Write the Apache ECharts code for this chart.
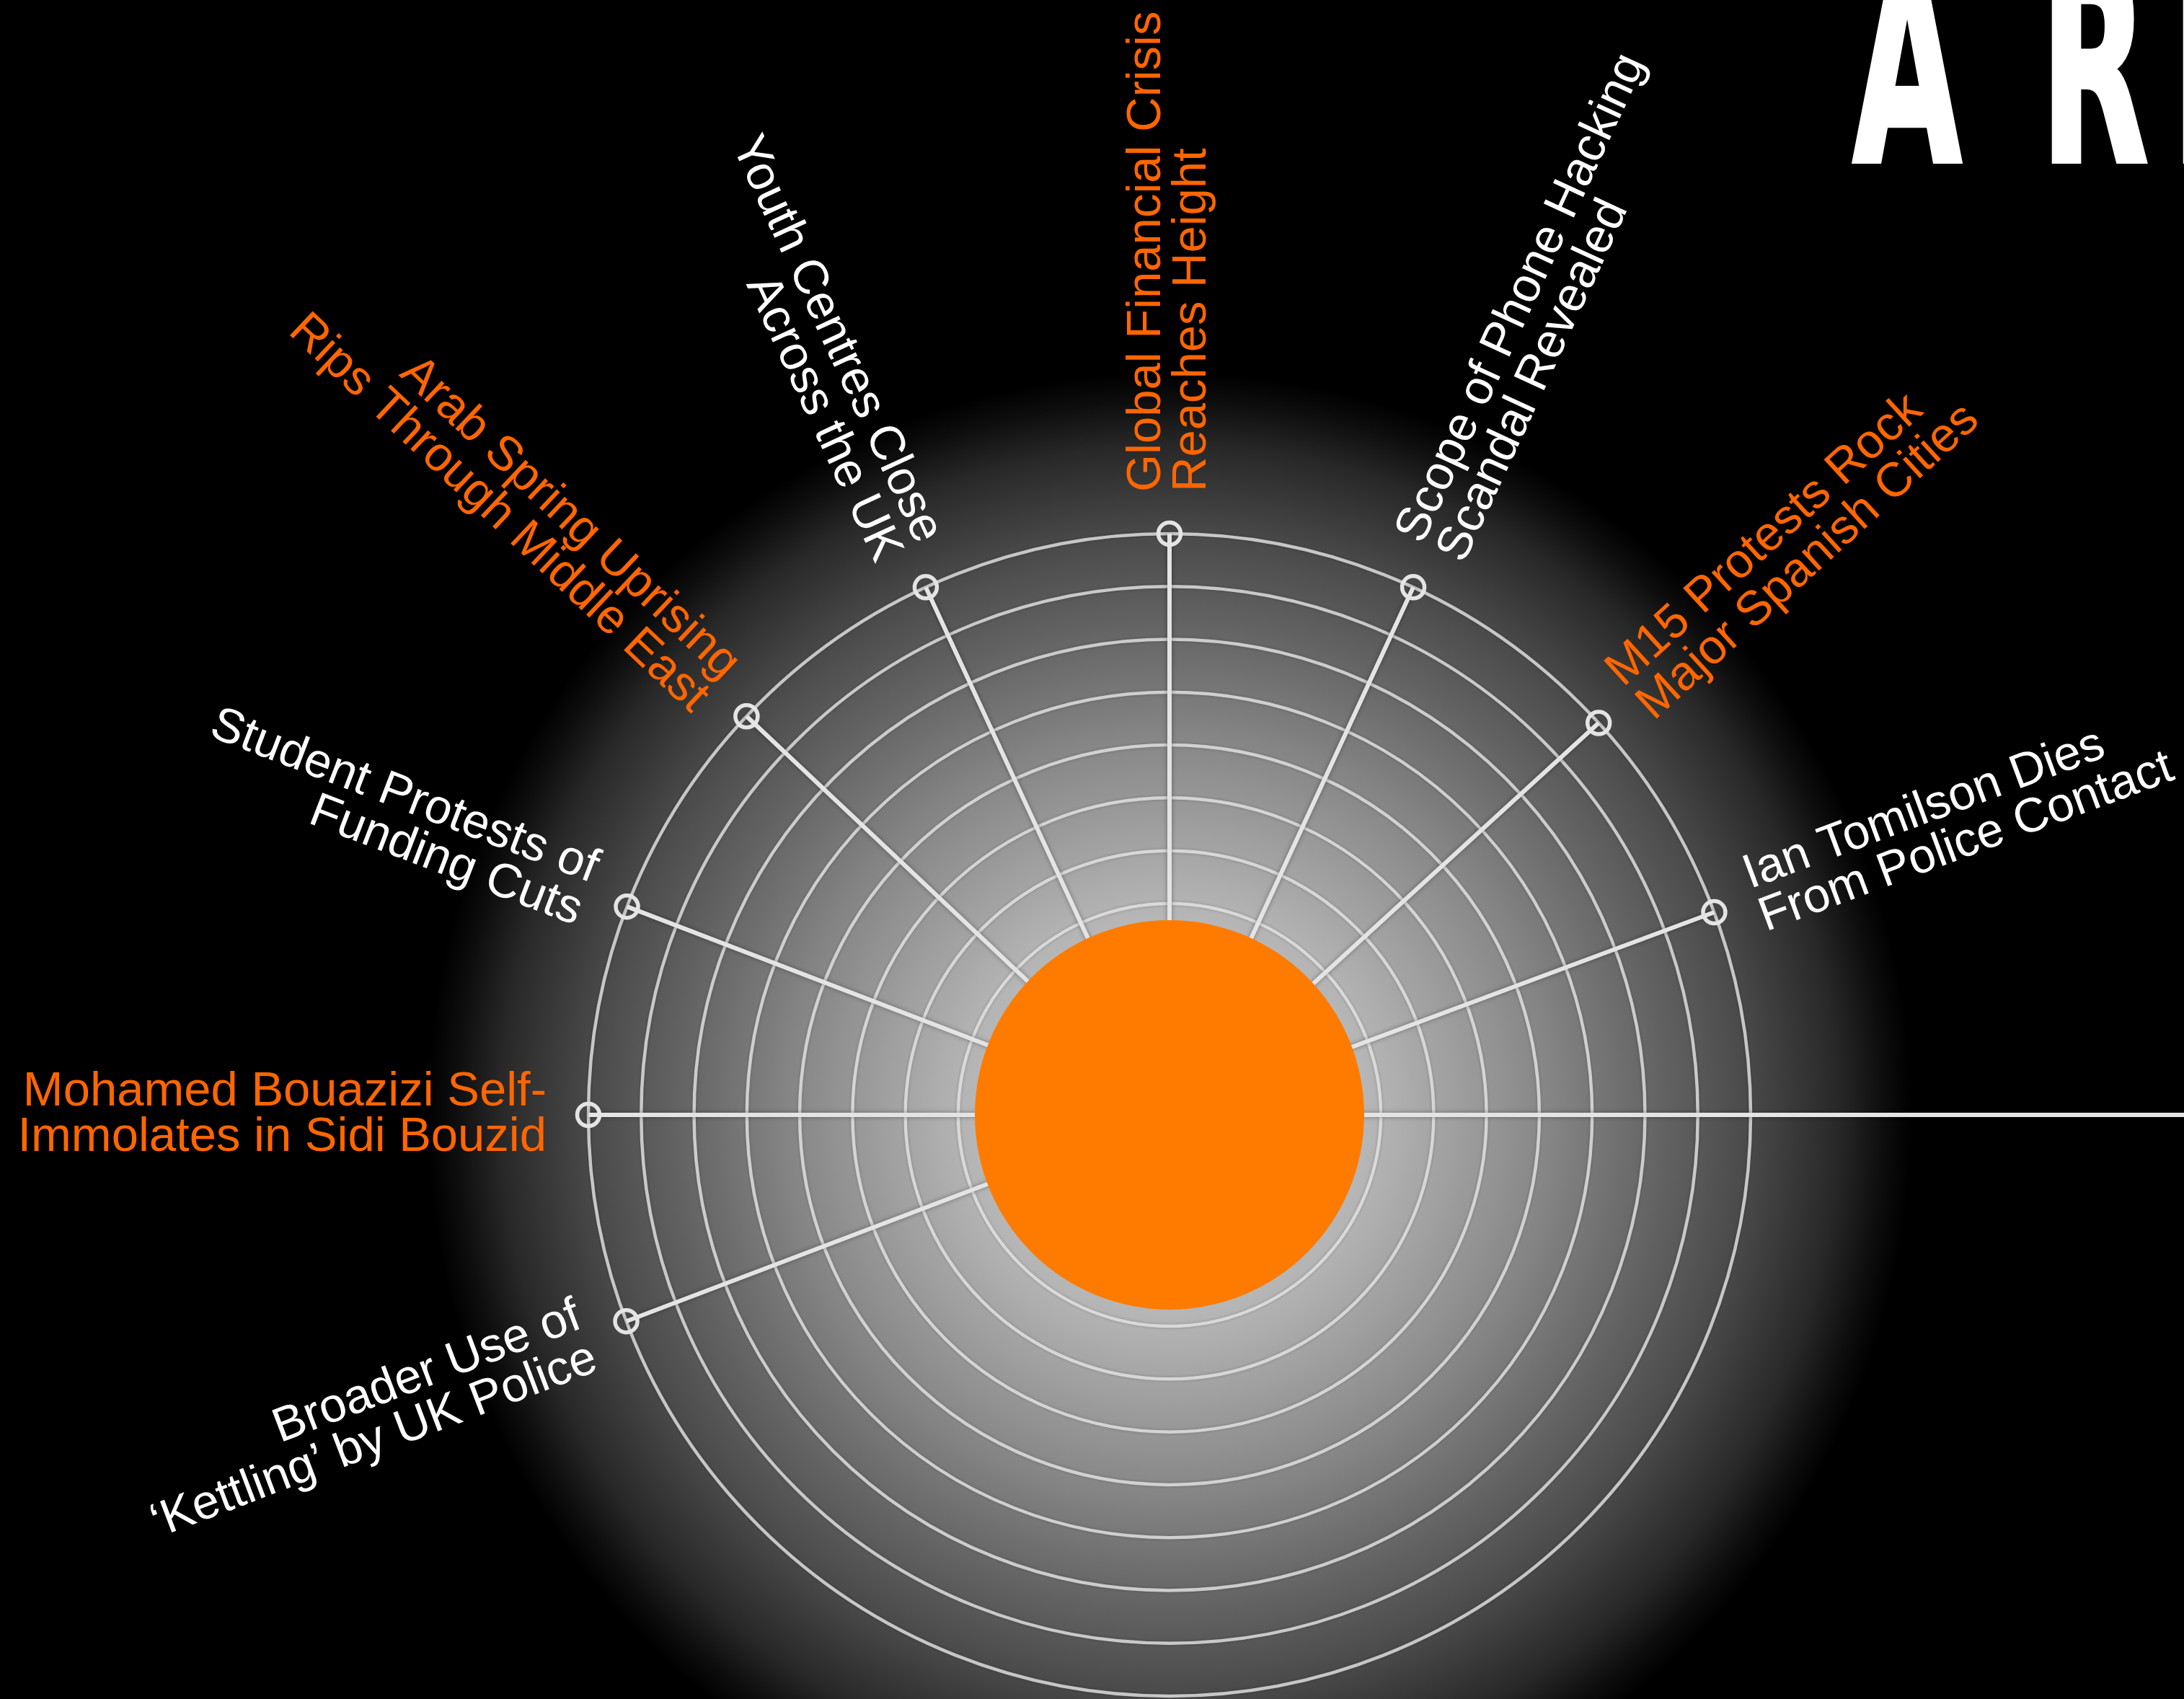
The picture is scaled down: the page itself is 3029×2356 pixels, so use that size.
<!DOCTYPE html>
<html>
<head>
<meta charset="utf-8">
<style>
  html, body { margin: 0; padding: 0; background: #000; }
  #chart { width: 3029px; height: 2356px; }
</style>
<script src="https://cdn.jsdelivr.net/npm/echarts@6/dist/echarts.min.js"></script>
</head>
<body>
<div id="chart"></div>
<script>
// ---- data ----
const eventLabels = [
  'Mohamed Bouazizi Self-\nImmolates in Sidi Bouzid',
  'Student Protests of\nFunding Cuts',
  'Arab Spring Uprising\nRips Through Middle East',
  'Youth Centres Close\nAcross the UK',
  'Global Financial Crisis\nReaches Height',
  'Scope of Phone Hacking\nScandal Revealed',
  'M15 Protests Rock\nMajor Spanish Cities',
  'Ian Tomilson Dies\nFrom Police Contact',
  '',
  'Broader Use of\n\u2018Kettling\u2019 by UK Police'
];
// spoke direction in degrees (0 = right, counter-clockwise)
const eventAngles = [180, 159, 136.7, 114.8, 90, 65.2, 42.4, 20.4, 0, 200.8];
// spoke length in ring units (the 0° spoke runs off toward the title)
const eventReach = [11, 11, 11, 11, 11, 11, 11, 11, 20, 11];
const eventHighlighted = [1, 0, 1, 0, 1, 0, 1, 0, 0, 0];
const ringCount = 11;      // visible rings (1 ring = 1 unit)
const axisMax = 20;        // axis runs on so the 0° spoke can leave the frame
const ringStep = 1;
const titleParts = ['A', 'R', 'IOT'];

// ---- styles ----
const ORANGE_CORE = '#ff7b00';
const ORANGE_TEXT = '#ff6600';
const WHITE_TEXT = '#ffffff';
const SPOKE = '#e4e4e4';
const RING = 'rgba(232,232,232,0.8)';
const CX = 1622, CY = 1546, UNIT = 806 / 11;
const LABEL_GAP = 58;

const chart = echarts.init(document.getElementById('chart'), null, { renderer: 'canvas' });

const series = [];
eventAngles.forEach((a, i) => {
  series.push({
    type: 'line',
    coordinateSystem: 'polar',
    data: [[0, a], [eventReach[i], a]],
    symbol: 'none',
    showSymbol: false,
    clip: false,
    silent: true,
    animation: false,
    z: 2,
    lineStyle: {
      color: SPOKE, width: 6, opacity: 1,
      shadowColor: 'rgba(0,0,0,0.35)', shadowBlur: 6
    }
  });
});

// orange core
series.push({
  type: 'scatter',
  coordinateSystem: 'polar',
  data: [[0, 0]],
  symbol: 'circle',
  symbolSize: 540,
  silent: true,
  animation: false,
  z: 3,
  itemStyle: { color: ORANGE_CORE, opacity: 1 }
});

// end markers + labels
const endData = [];
eventAngles.forEach((a, i) => {
  if (!eventLabels[i]) return;
  const leftSide = a > 90 && a < 270;
  endData.push({
    name: eventLabels[i],
    value: [eventReach[i], a],
    label: {
      show: true,
      position: 'inside',
      formatter: '{b}',
      rotate: leftSide ? a - 180 : a,
      align: leftSide ? 'right' : 'left',
      verticalAlign: 'middle',
      offset: [leftSide ? -LABEL_GAP : LABEL_GAP, 0],
      color: eventHighlighted[i] ? ORANGE_TEXT : WHITE_TEXT
    }
  });
});
series.push({
  type: 'scatter',
  coordinateSystem: 'polar',
  data: endData,
  symbol: 'circle',
  symbolSize: 31,
  clip: false,
  silent: true,
  animation: false,
  z: 4,
  itemStyle: {
    color: 'rgba(0,0,0,0)',
    borderColor: SPOKE,
    borderWidth: 5.5,
    opacity: 1
  },
  label: {
    fontFamily: '"Liberation Sans", Arial, sans-serif',
    fontSize: 67,
    lineHeight: 63,
    opacity: 1
  }
});

// ring colours: visible up to ringCount, invisible beyond
const ringColors = [];
for (let k = 0; k <= axisMax; k += ringStep) {
  ringColors.push(k <= ringCount ? RING : 'rgba(0,0,0,0)');
}

const titleStyle = {
  fill: '#ffffff', stroke: '#ffffff', lineWidth: 8,
  fontFamily: '"DejaVu Sans", sans-serif', fontWeight: 'bold',
  fontSize: 373, align: 'left', verticalAlign: 'middle'
};
const titleX = [2570, 2830, 3012];

chart.setOption({
  backgroundColor: '#000000',
  animation: false,
  polar: { center: [CX, CY], radius: UNIT * axisMax },
  angleAxis: {
    type: 'value', min: 0, max: 360, startAngle: 0, clockwise: false,
    show: false
  },
  radiusAxis: {
    type: 'value', min: 0, max: axisMax, interval: ringStep,
    axisLine: { show: false },
    axisTick: { show: false },
    axisLabel: { show: false },
    splitLine: {
      show: true,
      lineStyle: {
        color: ringColors, width: 4.5,
        shadowColor: 'rgba(0,0,0,0.25)', shadowBlur: 4
      }
    }
  },
  graphic: [
    {
      type: 'circle', silent: true, z: -10,
      shape: { cx: CX, cy: CY, r: 1030 },
      style: {
        fill: {
          type: 'radial', x: 0.5, y: 0.5, r: 0.5,
          colorStops: [
            { offset: 0, color: '#d8d8d8' },
            { offset: 0.28, color: '#b4b4b4' },
            { offset: 0.5, color: '#888888' },
            { offset: 0.64, color: '#686868' },
            { offset: 0.78, color: '#4a4a4a' },
            { offset: 0.9, color: '#282828' },
            { offset: 0.96, color: '#0e0e0e' },
            { offset: 1, color: '#000000' }
          ]
        }
      }
    }
  ].concat(titleParts.map((t, i) => ({
    type: 'text', silent: true, z: 10,
    x: titleX[i], y: 126, scaleX: 0.52, scaleY: 1,
    style: Object.assign({ text: t }, titleStyle)
  }))),
  series: series
});
</script>
</body>
</html>
